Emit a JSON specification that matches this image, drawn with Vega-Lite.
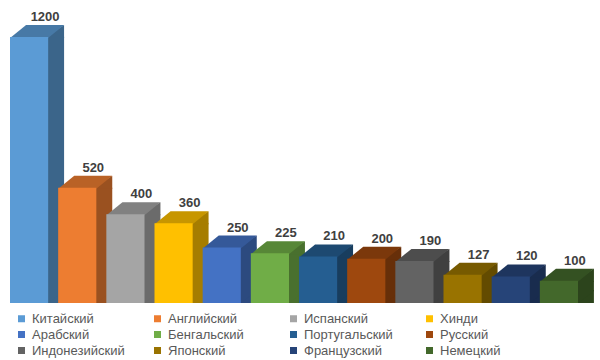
{
  "$schema": "https://vega.github.io/schema/vega-lite/v6.json",
  "width": 600,
  "height": 303,
  "autosize": {"type": "none"},
  "padding": {"left": 0, "right": 0, "top": 0, "bottom": 57},
  "background": "white",
  "config": {"view": {"stroke": null}, "font": "Liberation Sans"},
  "data": {"values": [
    {"lang": "Китайский", "value": 1200},
    {"lang": "Английский", "value": 520},
    {"lang": "Испанский", "value": 400},
    {"lang": "Хинди", "value": 360},
    {"lang": "Арабский", "value": 250},
    {"lang": "Бенгальский", "value": 225},
    {"lang": "Португальский", "value": 210},
    {"lang": "Русский", "value": 200},
    {"lang": "Индонезийский", "value": 190},
    {"lang": "Японский", "value": 127},
    {"lang": "Французский", "value": 120},
    {"lang": "Немецкий", "value": 100}
  ]},
  "encoding": {
    "x": {"field": "lang", "type": "nominal", "sort": null, "axis": null,
          "scale": {"range": [10, 578], "paddingInner": 0.2076, "paddingOuter": 0}},
    "y": {"field": "value", "type": "quantitative", "axis": null,
          "scale": {"domain": [0, 1367], "nice": false}}
  },
  "layer": [
    {
      "mark": {"type": "bar", "width": 17, "xOffset": 26.5, "y2Offset": -12},
      "encoding": {"color": {"field": "lang", "type": "nominal", "sort": null, "legend": null,
        "scale": {"domain": ["Китайский","Английский","Испанский","Хинди","Арабский","Бенгальский","Португальский","Русский","Индонезийский","Японский","Французский","Немецкий"],
                  "range": ["#3B658A","#9A5120","#6B6B6B","#A67D00","#2C4A7F","#49702E","#183D5E","#672F09","#404040","#634B00","#192C4E","#2C441C"]}}}
    },
    {
      "mark": {"type": "point", "shape": "M18,1L18,-1L35,-12L35,1Z", "size": 4, "filled": true, "opacity": 1, "strokeWidth": 0},
      "encoding": {"color": {"field": "lang", "type": "nominal", "sort": null, "legend": null,
        "scale": {"domain": ["Китайский","Английский","Испанский","Хинди","Арабский","Бенгальский","Португальский","Русский","Индонезийский","Японский","Французский","Немецкий"],
                  "range": ["#3B658A","#9A5120","#6B6B6B","#A67D00","#2C4A7F","#49702E","#183D5E","#672F09","#404040","#634B00","#192C4E","#2C441C"]}}}
    },
    {
      "mark": {"type": "point", "shape": "M18,-13L35,-13L35,-12L19,0L18,0Z", "size": 4, "filled": true, "opacity": 1, "strokeWidth": 0},
      "encoding": {
        "y": {"datum": 0, "type": "quantitative"},
        "color": {"field": "lang", "type": "nominal", "sort": null, "legend": null,
        "scale": {"domain": ["Китайский","Английский","Испанский","Хинди","Арабский","Бенгальский","Португальский","Русский","Индонезийский","Японский","Французский","Немецкий"],
                  "range": ["#3B658A","#9A5120","#6B6B6B","#A67D00","#2C4A7F","#49702E","#183D5E","#672F09","#404040","#634B00","#192C4E","#2C441C"]}}}
    },
    {
      "mark": {"type": "point", "shape": "M-19,1L19,1L35,-12L-3,-12Z", "size": 4, "filled": true, "opacity": 1, "strokeWidth": 0},
      "encoding": {"color": {"field": "lang", "type": "nominal", "sort": null, "legend": null,
        "scale": {"domain": ["Китайский","Английский","Испанский","Хинди","Арабский","Бенгальский","Португальский","Русский","Индонезийский","Японский","Французский","Немецкий"],
                  "range": ["#4779A6","#B96226","#818181","#C79600","#355999","#578737","#1D4971","#7B380B","#4D4D4D","#775A00","#1E355E","#345122"]}}}
    },
    {
      "mark": {"type": "bar"},
      "encoding": {"color": {"field": "lang", "type": "nominal", "sort": null,
        "scale": {"domain": ["Китайский","Английский","Испанский","Хинди","Арабский","Бенгальский","Португальский","Русский","Индонезийский","Японский","Французский","Немецкий"],
                  "range": ["#5B9BD5","#ED7D31","#A5A5A5","#FFC000","#4472C4","#70AD47","#255E91","#9E480E","#636363","#997300","#264478","#43682B"]},
        "legend": {"orient": "none", "legendX": 15, "legendY": 312, "columns": 4, "direction": "horizontal", "title": null,
                   "symbolType": "square", "symbolSize": 49, "symbolStrokeWidth": 0,
                   "labelFontSize": 13, "labelColor": "#595959", "labelFont": "Liberation Sans",
                   "columnPadding": 26, "rowPadding": 2, "gridAlign": "all", "labelOffset": 4, "padding": 0}}}
    },
    {
      "mark": {"type": "text", "dx": 16, "dy": -16, "baseline": "alphabetic", "align": "center",
               "fontWeight": "bold", "fontSize": 13, "color": "#404040", "font": "Liberation Sans"},
      "encoding": {"text": {"field": "value", "type": "quantitative", "format": "d"}}
    }
  ],
  "resolve": {"scale": {"color": "independent"}}
}
